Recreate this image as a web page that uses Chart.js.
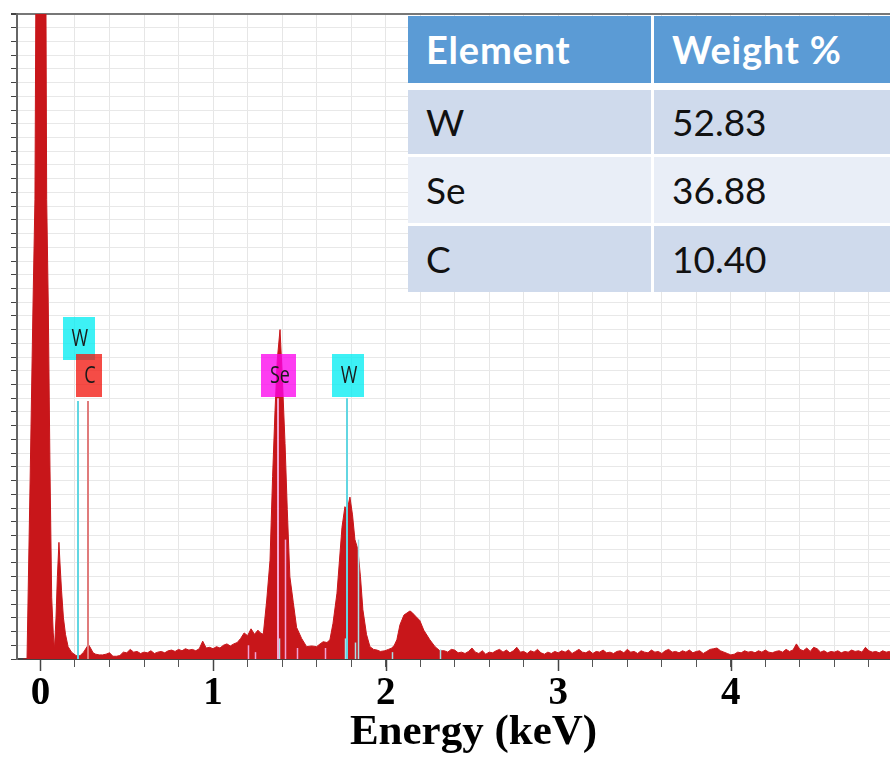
<!DOCTYPE html>
<html>
<head>
<meta charset="utf-8">
<script src="https://cdn.jsdelivr.net/npm/chart.js@4.4.1/dist/chart.umd.min.js"></script>
<style>
  html, body { margin: 0; padding: 0; background: #fff; overflow: hidden; }
  #wrap { position: relative; width: 930px; height: 758px; }
  #tbl { position: absolute; left: 408px; top: 16px; width: 490px; height: 276px; background: #fff; }
  .cell { position: absolute; box-sizing: border-box; padding-left: 18px; font-family: Lato, "Open Sans", sans-serif; font-size: 37px; color: #111; white-space: nowrap; }
  .head { background: #5b9bd5; color: #fff; font-weight: bold; font-size: 38px; letter-spacing: 0.8px; }
  .odd { background: #cfdaec; }
  .even { background: #e9eef7; }
</style>
</head>
<body>
<div id="wrap">
  <canvas id="eds"></canvas>
  <div id="tbl"></div>
</div>
<script>
// EDS spectrum, counts (arbitrary units)
var energy = [
  -0.10, -0.078, -0.06, -0.043, -0.032, -0.026, -0.015, 0, 0.015, 0.032,
  0.036, 0.045, 0.055, 0.065, 0.074, 0.081, 0.09, 0.098, 0.107, 0.113,
  0.122, 0.133, 0.145, 0.16, 0.18, 0.20, 0.215, 0.23, 0.25, 0.265,
  0.278, 0.29, 0.305, 0.32,
  0.34, 0.36, 0.38, 0.40, 0.42, 0.44, 0.46, 0.48, 0.50, 0.52,
  0.54, 0.56, 0.58, 0.60, 0.62, 0.64, 0.66, 0.68, 0.70, 0.72,
  0.74, 0.76, 0.78, 0.80, 0.82, 0.84, 0.86, 0.88, 0.90, 0.92,
  0.94, 0.96, 0.98, 1.00, 1.02, 1.04, 1.06, 1.08, 1.10, 1.12,
  1.14, 1.16, 1.18, 1.20, 1.22, 1.24, 1.26, 1.275,
  1.291, 1.311, 1.330, 1.345, 1.359, 1.372, 1.388, 1.401, 1.417, 1.430,
  1.445, 1.465, 1.484, 1.513, 1.542, 1.571, 1.600, 1.620, 1.638, 1.660,
  1.677, 1.695, 1.718, 1.747, 1.764, 1.776, 1.793, 1.808, 1.822, 1.839,
  1.854, 1.868, 1.889, 1.909, 1.930, 1.950, 1.970, 1.996, 2.016, 2.036,
  2.050, 2.065, 2.083, 2.106, 2.129, 2.141, 2.152, 2.175, 2.198, 2.221,
  2.256, 2.286, 2.314,
  2.34, 2.36, 2.38, 2.40, 2.42, 2.44, 2.46, 2.48, 2.50, 2.52,
  2.54, 2.56, 2.58, 2.60, 2.62, 2.64, 2.66, 2.68, 2.70, 2.72,
  2.74, 2.76, 2.78, 2.80, 2.82, 2.84, 2.86, 2.88, 2.90, 2.92,
  2.94, 2.96, 2.98, 3.00, 3.02, 3.04, 3.06, 3.08, 3.10, 3.12,
  3.14, 3.16, 3.18, 3.20, 3.22, 3.24, 3.26, 3.28, 3.30, 3.32,
  3.34, 3.36, 3.38, 3.40, 3.42, 3.44, 3.46, 3.48, 3.50, 3.52,
  3.54, 3.56, 3.58, 3.60, 3.62, 3.64, 3.66, 3.68, 3.70, 3.72,
  3.74, 3.76, 3.78, 3.80, 3.82, 3.84, 3.86, 3.88, 3.90, 3.92,
  3.94, 3.96, 3.98, 4.00, 4.02, 4.04, 4.06, 4.08, 4.10, 4.12,
  4.14, 4.16, 4.18, 4.20, 4.22, 4.24, 4.26, 4.28, 4.30, 4.32,
  4.34, 4.36, 4.38, 4.40, 4.42, 4.44, 4.46, 4.48, 4.50, 4.52,
  4.54, 4.56, 4.58, 4.60, 4.62, 4.64, 4.66, 4.68, 4.70, 4.72,
  4.74, 4.76, 4.78, 4.80, 4.82, 4.84, 4.86, 4.88, 4.90, 4.92,
  4.94, 4.96, 4.98, 5.00, 5.02, 5.04, 5.06, 5.08, 5.10, 5.12,
  5.14, 5.16
];
var counts = [
  0, 0, 13, 26, 33.5, 50, 80, 100, 80, 47,
  33.5, 26, 14, 4.5, 1.9, 0.7, 3, 6, 8.5, 7,
  5, 3, 1.8, 0.9, 0.5, 0.3, 0.2, 0.25, 0.5, 0.8,
  1.05, 0.8, 0.45, 0.35,
  0.3, 0.3, 0.35, 0.45, 0.2, 0.2, 0.25, 0.5, 0.45, 0.7,
  0.5, 0.55, 0.4, 0.5, 0.45, 0.6, 0.4, 0.5, 0.55, 0.45,
  0.6, 0.65, 0.55, 0.7, 0.6, 0.75, 0.65, 0.7, 0.6, 0.75,
  1.3, 0.8, 0.85, 0.75, 0.9, 0.8, 1.0, 1.1, 0.95, 1.1,
  1.2, 1.5, 1.9, 1.7, 2.2, 1.8, 2.1, 1.9,
  1.8, 4.3, 7.2, 13.3, 18.1, 21.8, 24.0, 20.6, 15.7, 10.9,
  6.0, 4.1, 2.3, 1.5, 0.9, 0.95, 0.9, 1.1, 1.26, 1.2,
  1.4, 2.6, 4.8, 9.6, 11.1, 10.8, 11.8, 10.5, 8.7, 8.0,
  6.0, 3.6, 1.8, 0.9, 0.7, 0.65, 0.55, 0.6, 0.7, 0.8,
  1.0, 1.4, 2.5, 3.2, 3.4, 3.5, 3.4, 3.1, 2.8, 2.1,
  1.4, 0.9, 0.6,
  0.6, 0.5, 0.7, 0.65, 0.45, 0.5, 0.4, 0.55, 0.8, 0.5,
  0.4, 0.6, 0.35, 0.5, 0.45, 0.6, 0.7, 0.5, 0.65, 0.45,
  0.6, 0.85, 0.5, 0.55, 0.4, 0.6, 0.5, 0.7, 0.45, 0.35,
  0.5, 0.4, 0.55, 0.45, 0.6, 0.5, 0.65, 0.4, 0.55, 0.7,
  0.5, 0.45, 0.6, 0.4, 0.55, 0.5, 0.65, 0.45, 0.5, 0.4,
  0.55, 0.6, 0.45, 0.7, 0.5, 0.55, 0.4, 0.6, 0.5, 0.45,
  0.65, 0.5, 0.55, 0.4, 0.6, 0.7, 0.5, 0.55, 0.45, 0.6,
  0.5, 0.65, 0.45, 0.55, 0.6, 0.4, 0.55, 0.7, 0.75, 0.8,
  0.6, 0.5, 0.4, 0.3, 0.35, 0.5, 0.45, 0.6, 0.5, 0.55,
  0.45, 0.6, 0.5, 0.65, 0.5, 0.45, 0.55, 0.6, 0.5, 0.7,
  0.55, 0.65, 1.1, 0.7, 0.6, 0.8, 0.55, 0.85, 0.75, 0.5,
  0.6, 0.45, 0.55, 0.5, 0.6, 0.45, 0.55, 0.5, 0.65, 0.55,
  0.6, 0.5, 0.85, 0.6, 0.5, 0.55, 0.45, 0.6, 0.5, 0.55,
  0.5, 0.6, 0.45, 0.55, 0.5, 0.6, 0.45, 0.55, 0.5, 0.6,
  0.5, 0.55
];

// x axis ticks (keV)
var xTickValues = [0, 0.2, 0.4, 0.6, 0.8, 1, 1.2, 1.4, 1.6, 1.8, 2, 2.2, 2.4, 2.6, 2.8,
  3, 3.2, 3.4, 3.6, 3.8, 4, 4.2, 4.4, 4.6, 4.8, 5];
var xMajorTicks = [0, 1, 2, 3, 4, 5];
var xTickLabels = ['0', '1', '2', '3', '4', '5'];

// identified element lines
var peakNames = ['W', 'C', 'Se', 'W'];
var peakEnergy = [0.217, 0.275, 1.376, 1.776];
var peakLineTop = [18.8, 18.8, 19.0, 19.0];
var peakBoxBase = [21.8, 19.1, 19.1, 19.1];

// satellite lines of the same elements
var minorLineElement = ['Se', 'W', 'Se', 'Se', 'Se', 'Se', 'W', 'W', 'W', 'W', 'W'];
var minorLineEnergy = [1.417, 1.839, 1.202, 1.243, 1.486, 1.648, 1.382, 1.765, 1.822, 2.036, 2.314];
var minorLineTop = [8.7, 8.7, 1.0, 0.5, 0.8, 0.8, 1.5, 1.5, 1.2, 0.5, 0.7];

// quantification table
var tableHead = ['Element', 'Weight %'];
var tableElements = ['W', 'Se', 'C'];
var tableWeights = ['52.83', '36.88', '10.40'];

// label boxes are see-through, the spectrum shows under them
var boxColors = { W: 'rgba(0,236,242,0.76)', C: 'rgba(242,20,12,0.76)', Se: 'rgba(252,0,236,0.76)' };
var lineColors = { W: '#62d6e2', C: '#e07b7b', Se: '#f4a6d2' };
var minorColors = { W: '#a8dfe6', Se: '#f2a0d4' };

var spectrum = energy.map(function (e, i) {
  return { x: e, y: counts[i] };
});

var markerPlugin = {
  id: 'markers',
  afterDatasetsDraw: function (chart) {
    var ctx = chart.ctx;
    var x = chart.scales.x, y = chart.scales.y;
    var base = y.getPixelForValue(0);
    ctx.save();
    ctx.lineWidth = 1.5;
    minorLineEnergy.forEach(function (e, i) {
      var px = Math.round(x.getPixelForValue(e)) + 0.5;
      ctx.strokeStyle = minorColors[minorLineElement[i]];
      ctx.beginPath();
      ctx.moveTo(px, base);
      ctx.lineTo(px, y.getPixelForValue(minorLineTop[i]));
      ctx.stroke();
    });
    ctx.lineWidth = 2;
    peakEnergy.forEach(function (e, i) {
      var px = Math.round(x.getPixelForValue(e));
      ctx.strokeStyle = lineColors[peakNames[i]];
      ctx.beginPath();
      ctx.moveTo(px, base);
      ctx.lineTo(px, y.getPixelForValue(peakLineTop[i]));
      ctx.stroke();
    });
    // label boxes
    ctx.font = '24px "Open Sans"';
    ctx.textAlign = 'center';
    ctx.textBaseline = 'middle';
    peakNames.forEach(function (name, i) {
      var px = x.getPixelForValue(peakEnergy[i]) + 1;
      var bottom = y.getPixelForValue(peakBoxBase[i]);
      var w = ctx.measureText(name).width * 0.75 + 15;
      var h = 43;
      ctx.fillStyle = boxColors[name];
      ctx.fillRect(Math.round(px - w / 2), Math.round(bottom - h), Math.round(w), h);
      ctx.fillStyle = '#1a1a1a';
      ctx.save();
      ctx.translate(px + 1, bottom - h / 2 + 1);
      ctx.scale(0.75, 1);
      ctx.fillText(name, 0, 0);
      ctx.restore();
    });
    // longer marks at whole keV
    ctx.strokeStyle = '#444';
    ctx.lineWidth = 1.5;
    xMajorTicks.forEach(function (v) {
      var px = Math.round(x.getPixelForValue(v)) + 0.5;
      ctx.beginPath();
      ctx.moveTo(px, base);
      ctx.lineTo(px, base + 12);
      ctx.stroke();
    });
    ctx.restore();
  }
};

new Chart(document.getElementById('eds'), {
  type: 'line',
  data: {
    datasets: [{
      data: spectrum,
      borderColor: '#c8161a',
      backgroundColor: '#c8161a',
      borderWidth: 1,
      pointRadius: 0,
      fill: 'origin',
      tension: 0
    }]
  },
  options: {
    responsive: true,
    maintainAspectRatio: false,
    animation: false,
    devicePixelRatio: 1,
    layout: { padding: { left: 11, top: 14, right: 0, bottom: 0 } },
    plugins: { legend: { display: false }, tooltip: { enabled: false } },
    scales: {
      x: {
        type: 'linear',
        min: -0.136,
        max: 5.154,
        afterBuildTicks: function (scale) {
          scale.ticks = xTickValues.map(function (v) { return { value: v }; });
        },
        afterFit: function (scale) {
          scale.height = 99;
        },
        ticks: {
          autoSkip: false,
          maxRotation: 0,
          padding: 7,
          color: '#000',
          font: { family: '"Liberation Serif", "Times New Roman", serif', size: 39, weight: 'bold', lineHeight: 1 },
          callback: function (v) {
            var k = xMajorTicks.indexOf(v);
            return k >= 0 ? xTickLabels[k] : '';
          }
        },
        grid: { color: '#e6e6e6', tickColor: '#555', tickLength: 8 },
        border: { color: '#444', width: 2 },
        title: {
          display: true,
          text: 'Energy (keV)',
          color: '#000',
          padding: { top: 0, bottom: 4 },
          font: { family: '"Liberation Serif", "Times New Roman", serif', size: 43, weight: 'bold', lineHeight: 1 }
        }
      },
      y: {
        min: 0,
        max: 47,
        ticks: { display: false, stepSize: 1 },
        grid: {
          color: function (c) { return c.tick && c.tick.value === 47 ? '#777' : '#e8e8e8'; },
          lineWidth: function (c) { return c.tick && c.tick.value === 47 ? 2 : 1; },
          tickColor: '#444',
          tickLength: 6
        },
        border: { color: '#666', width: 2 }
      }
    }
  },
  plugins: [markerPlugin]
});

// table overlay
var tbl = document.getElementById('tbl');
var rowTops = [0, 74, 141, 210];
var rowHeights = [67, 64, 66, 66];
var colLefts = [0, 246];
var colWidths = [243, 244];
var rows = [tableHead];
tableElements.forEach(function (el, i) { rows.push([el, tableWeights[i]]); });
rows.forEach(function (row, r) {
  row.forEach(function (txt, c) {
    var d = document.createElement('div');
    d.className = 'cell ' + (r === 0 ? 'head' : (r % 2 ? 'odd' : 'even'));
    d.style.left = colLefts[c] + 'px';
    d.style.top = rowTops[r] + 'px';
    d.style.width = colWidths[c] + 'px';
    d.style.height = rowHeights[r] + 'px';
    d.style.lineHeight = rowHeights[r] + 'px';
    d.textContent = txt;
    tbl.appendChild(d);
  });
});
</script>
</body>
</html>
